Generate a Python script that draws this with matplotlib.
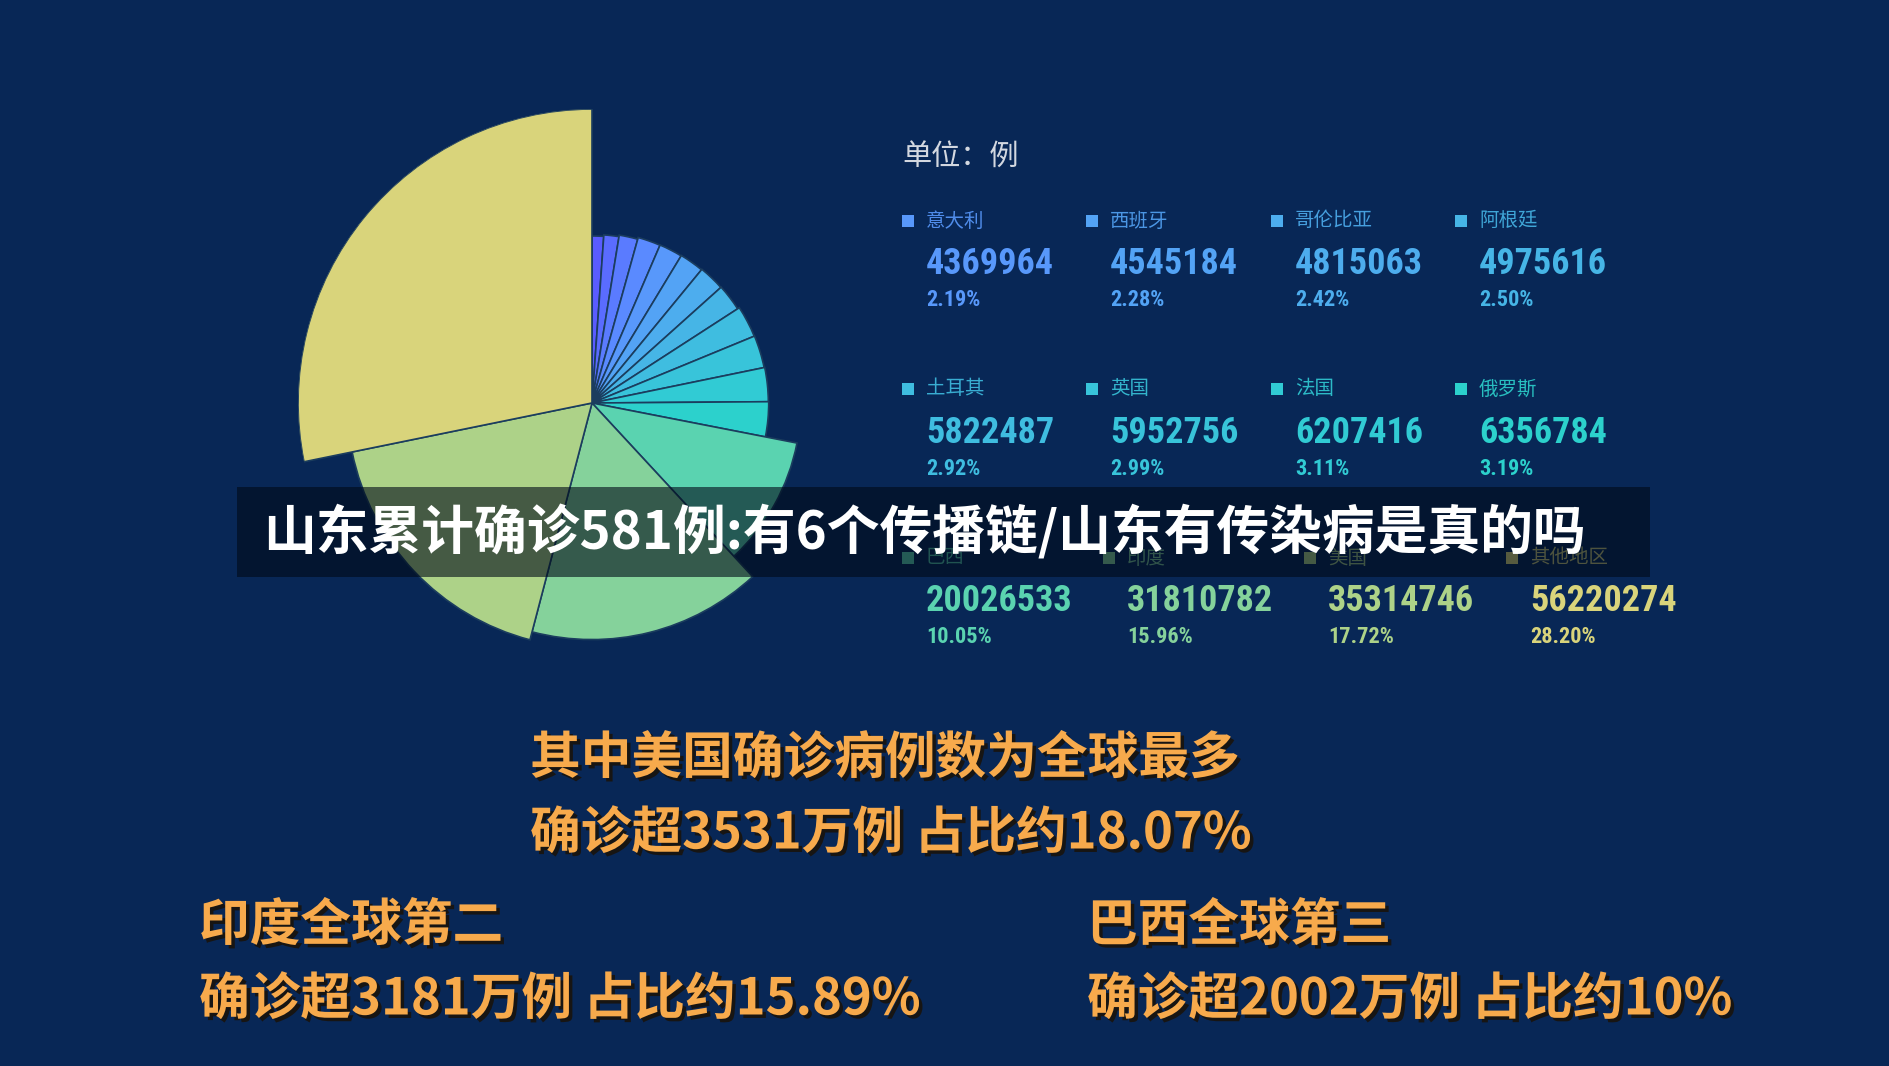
import numpy as np
import matplotlib
matplotlib.use("Agg")
import matplotlib.pyplot as plt
import matplotlib.patheffects as pe
from matplotlib.patches import Rectangle

plt.rcParams['font.family'] = ['Noto Sans CJK SC', 'DejaVu Sans']

# data (cases), sorted ascending as in the rose chart
hidden_values = [2235000, 2873000, 3532000, 4270000]   # slices with no legend entry shown
countries = ["意大利", "西班牙", "哥伦比亚", "阿根廷", "土耳其", "英国",
             "法国", "俄罗斯", "巴西", "印度", "美国", "其他地区"]
cases = [4369964, 4545184, 4815063, 4975616, 5822487, 5952756,
         6207416, 6356784, 20026533, 31810782, 35314746, 56220274]
shares = ["2.19%", "2.28%", "2.42%", "2.50%", "2.92%", "2.99%",
          "3.11%", "3.19%", "10.05%", "15.96%", "17.72%", "28.20%"]

colors = ["#5a5cff", "#5a6cff", "#5a7bff", "#5a8aff",
          "#5898fb", "#53a3f5", "#4dadee", "#46b5e6", "#3fbde0", "#38c4da",
          "#31cbd4", "#2cd1cc", "#5ad3b0", "#85d29b", "#add288", "#d9d47b"]

BG = "#082756"
W, H = 1890, 1066
fig = plt.figure(figsize=(W / 100, H / 100), dpi=100, facecolor=BG)

# rose pie: angle and radius both follow the value
values = np.array(hidden_values + cases, dtype=float)
angles = values / values.sum() * 2 * np.pi
starts = np.concatenate([[0], np.cumsum(angles)[:-1]])
r0, r1 = 167, 294
radii = np.interp(values, [values.min(), values.max()], [r0, r1])

cx, cy = 592, 403
ax = fig.add_axes([(cx - r1) / W, (H - cy - r1) / H, 2 * r1 / W, 2 * r1 / H],
                  projection="polar", zorder=1)
ax.set_theta_zero_location("N")
ax.set_theta_direction(-1)
ax.bar(starts, radii, width=angles, bottom=0, align="edge",
       color=colors, edgecolor="#1b3d5e", linewidth=1.2)
ax.set_ylim(0, r1)
ax.set_facecolor("none")
ax.axis("off")

# overlay axes in pixel coordinates
ov = fig.add_axes([0, 0, 1, 1], zorder=2)
ov.set_xlim(0, W)
ov.set_ylim(H, 0)
ov.axis("off")
ov.patch.set_alpha(0)

ov.text(902, 158, "单位：例", color="#d3d8e0", fontsize=21, va="center", ha="left")

num_font = ["Roboto Condensed", "Liberation Sans Narrow", "Noto Sans Condensed",
            "Open Sans Condensed", "DejaVu Sans Condensed", "Noto Sans CJK SC"]
rows = [(221, 264, 300), (389, 433, 469), (558, 601, 637)]
cols = [[926, 1110, 1295, 1479], [926, 1110, 1295, 1479], [926, 1127, 1328, 1530]]
leg_colors = colors[4:]
for i, (name, val, pct) in enumerate(zip(countries, cases, shares)):
    r, c = divmod(i, 4)
    x = cols[r][c]
    yn, yv, yp = rows[r]
    col = leg_colors[i]
    ov.scatter([x - 18], [yn], marker="s", s=70, color=col, linewidths=0)
    ov.text(x, yn, name, color=col, fontsize=14, va="center", ha="left", alpha=0.9)
    ov.text(x, yv, str(val), color=col, fontsize=26, fontweight="bold",
            va="center", ha="left", family=num_font)
    ov.text(x, yp, pct, color=col, fontsize=16, fontweight="bold",
            va="center", ha="left", family=num_font)

# title banner
ov.add_patch(Rectangle((237, 487), 1650 - 237, 577 - 487, facecolor="#000a18",
                       alpha=0.6, edgecolor="none", zorder=5))
ov.text(263, 533, "山东累计确诊581例:有6个传播链/山东有传染病是真的吗", color="white",
        fontsize=38, fontweight="black", va="center", ha="left", zorder=6)

# bottom captions
shadow = [pe.SimplePatchShadow(offset=(2.5, -2.5), shadow_rgbFace="#1a1208", alpha=0.85),
          pe.Normal()]
captions = [
    (530, 759, "其中美国确诊病例数为全球最多"),
    (530, 834, "确诊超3531万例 占比约18.07%"),
    (199, 926, "印度全球第二"),
    (199, 1000, "确诊超3181万例 占比约15.89%"),
    (1087, 926, "巴西全球第三"),
    (1087, 1000, "确诊超2002万例 占比约10%"),
]
for x, y, s in captions:
    ov.text(x, y, s, color="#f7aa4c", fontsize=36.5, fontweight="heavy",
            va="center", ha="left", path_effects=shadow)

fig.savefig("out.png", dpi=100, facecolor=BG)
